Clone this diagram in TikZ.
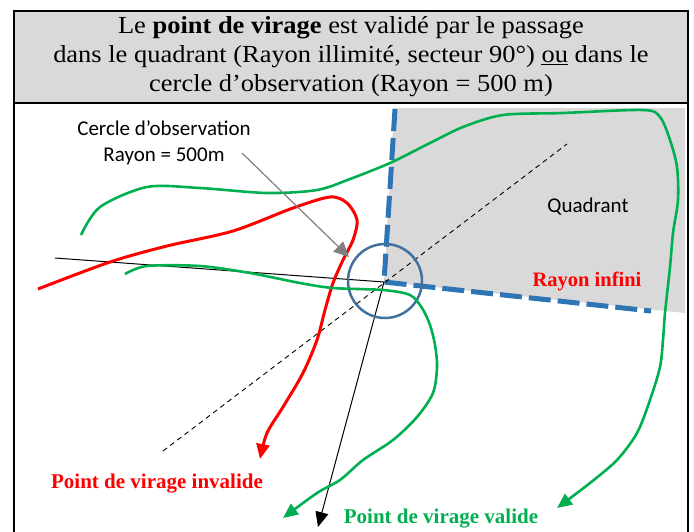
\documentclass[tikz,border=0pt]{standalone}
\usepackage{fontspec}
\setmainfont{Liberation Serif}
\newfontfamily\titrefont{Liberation Serif}[FakeStretch=1.08]
\setsansfont{Carlito}
\usetikzlibrary{arrows.meta}
\definecolor{vert}{HTML}{00B050}
\definecolor{rouge}{HTML}{FF0000}
\definecolor{bleu}{HTML}{2E75B6}
\definecolor{bleucercle}{HTML}{41719C}
\definecolor{grisfond}{HTML}{D9D9D9}
\definecolor{grisfleche}{HTML}{7F7F7F}

\begin{document}
\begin{tikzpicture}[x=1pt, y=-1pt, >={Triangle[length=15pt, width=13pt]}]
	\tikzset{trace/.style={line width=2.6pt, line join=round},
		borne/.style={bleu, line width=5pt, dash pattern=on 22pt off 7pt},
		legende/.style={font=\sffamily\fontsize{21}{26}\selectfont, align=center},
		etiquette/.style={font=\bfseries\fontsize{21}{25}\selectfont, anchor=base}}
	\useasboundingbox (0,0) rectangle (694,531);
	\node[draw, line width=2.5pt, fill=grisfond, outer sep=0pt, inner sep=0pt, minimum width=674pt, minimum height=92pt, align=center, font=\titrefont\fontsize{24.5}{29}\selectfont] (titre) at (351,57) {Le \textbf{point de virage} est validé par le passage\\dans le quadrant (Rayon illimité, secteur 90°) \underline{ou} dans le\\cercle d’observation (Rayon = 500 m)};
	\draw[line width=2.5pt] (titre.south west) -- ++(0,432) (titre.south east) -- ++(0,432);
	\coordinate (O) at (384,282);
	\fill[grisfond] (394,108) -- (685,108) -- (685,313) -- (O) -- cycle;
	\draw[borne] (395,109) -- (O) -- (651,311);
	\coordinate (d1) at (163,451);
	\coordinate (d2) at (567,144);
	\draw[line width=0.9pt, dash pattern=on 5pt off 4pt] (d1) -- (d2);
	\coordinate (a) at (55,258);
	\coordinate (b) at (318,527);
	\draw[->, line width=1pt] (a) -- (O) -- (b);
	\draw[bleucercle, line width=2.5pt] (385,281) circle[radius=37];
	\coordinate (g1) at (557,508);
	\coordinate (g2) at (283,518);
	\coordinate (r1) at (260,459);
	\draw[trace, vert, ->] plot[smooth] coordinates {(81,235) (100,207) (147,187) (200,188) (267,193) (317,190) (350,179) (390,163) (430,143) (463,127) (503,115) (563,113) (643,110) (660,117) (670,140) (677,167) (678,200) (673,233) (670,267) (665,313) (663,340) (660,367) (650,400) (637,433) (617,460) (590,483) (g1)};
	\draw[trace, rouge, line width=3pt, ->] plot[smooth] coordinates {(38,289) (110,262) (167,246) (233,231) (293,208) (330,197) (347,203) (357,220) (353,240) (343,260) (333,283) (325,310) (317,340) (303,373) (283,407) (267,433) (r1)};
	\draw[trace, vert, ->] plot[smooth] coordinates {(125,274) (147,266) (200,266) (250,273) (300,283) (333,288) (383,290) (410,295) (422,308) (430,325) (435,345) (437,367) (433,393) (417,417) (393,440) (363,460) (340,480) (317,493) (g2)};
	\node[legende] (cercle) at (164,143) {Cercle d’observation\\Rayon = 500m};
	\coordinate (c1) at (242,153);
	\coordinate (c2) at (349,257);
	\draw[->, grisfleche, line width=1.2pt, >={Triangle[length=15pt, width=14pt]}] (c1) -- (c2);
	\node[font=\sffamily\fontsize{21}{25}\selectfont, anchor=base] (quadrant) at (588,212) {Quadrant};
	\node[etiquette, rouge, font=\bfseries\fontsize{20.5}{25}\selectfont] (infini) at (587,286) {Rayon infini};
	\node[etiquette, rouge] (invalide) at (157,488) {Point de virage invalide};
	\node[etiquette, vert] (valide) at (441,523) {Point de virage valide};
\end{tikzpicture}
\end{document}
